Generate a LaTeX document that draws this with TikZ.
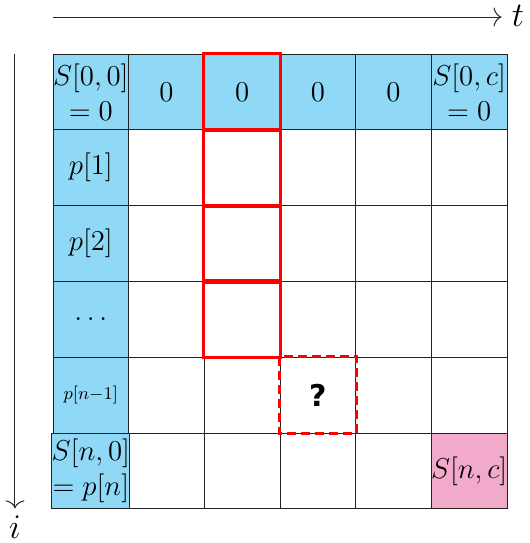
\documentclass[tikz,border=0pt]{standalone}
\usepackage{fontspec}
\newfontfamily\qfont{DejaVu Sans}
\usetikzlibrary{arrows.meta}
\definecolor{cellblue}{HTML}{8FD8F6}
\definecolor{cellpink}{HTML}{F2AACB}
\definecolor{gridline}{HTML}{222222}
\tikzset{
  cellbox/.style={draw=gridline, line width=0.5pt, minimum width=37.83pt, minimum height=37.92pt,
    inner sep=0pt, align=center, font=\fontsize{14}{17.5}\selectfont},
  bluecell/.style={cellbox, fill=cellblue},
  pinkcell/.style={cellbox, fill=cellpink},
  whitecell/.style={cellbox, fill=white},
  redbox/.style={draw=red, line width=1.5pt},
  reddash/.style={draw=red, line width=1.5pt, dash pattern=on 4.5pt off 2.5pt},
  axisarrow/.style={draw=black!85, line width=0.5pt, -{To[length=4pt,width=9.5pt]}},
  axislabel/.style={inner sep=0pt, font=\fontsize{16}{18}\selectfont}
}
\begin{document}
\begin{tikzpicture}[x=0.5pt, y=-0.5pt]
\useasboundingbox (0,0) rectangle (530,543);
% white interior cells
\foreach \i in {1,...,5}{
  \foreach \j in {1,...,5}{
    \ifnum\i\j=55\relax\else
      \node[whitecell] (c-\i-\j) at ({53+75.67*(\j+0.5)},{54+75.83*(\i+0.5)}) {};
    \fi
  }
}
% first row
\node[bluecell] (c-0-0) at ({53+75.67*0.5},{54+75.83*0.5}) {$S[0,0]$\\$=0$};
\node[bluecell] (c-0-1) at ({53+75.67*1.5},{54+75.83*0.5}) {$0$};
\node[bluecell] (c-0-2) at ({53+75.67*2.5},{54+75.83*0.5}) {$0$};
\node[bluecell] (c-0-3) at ({53+75.67*3.5},{54+75.83*0.5}) {$0$};
\node[bluecell] (c-0-4) at ({53+75.67*4.5},{54+75.83*0.5}) {$0$};
\node[bluecell] (c-0-5) at ({53+75.67*5.5},{54+75.83*0.5}) {$S[0,c]$\\$=0$};
% first column
\node[bluecell] (c-1-0) at ({53+75.67*0.5},{54+75.83*1.5}) {$p[1]$};
\node[bluecell] (c-2-0) at ({53+75.67*0.5},{54+75.83*2.5}) {$p[2]$};
\node[bluecell] (c-3-0) at ({53+75.67*0.5},{54+75.83*3.5}) {$\dots$};
\node[bluecell, font=\fontsize{9.5}{11}\selectfont] (c-4-0) at ({53+75.67*0.5},{54+75.83*4.5}) {$p[n{-}1]$};
\node[bluecell] (c-5-0) at ({53+75.67*0.5},{54+75.83*5.5}) {$S[n,0]$\\$=p[n]$};
% result cell
\node[pinkcell] (c-5-5) at ({53+75.67*5.5},{54+75.83*5.5}) {$S[n,c]$};
% question mark
\node[font=\qfont\bfseries\fontsize{15}{17}\selectfont, inner sep=0pt] (q) at (c-4-3) {?};
% red outlines
\foreach \i in {0,...,3}{
  \draw[redbox] (c-\i-2.north west) rectangle (c-\i-2.south east);
}
\draw[reddash] (c-4-3.north west) rectangle (c-4-3.south east);
% axes
\coordinate (tstart) at (53,17);
\node[axislabel] (tlab) at (518,16) {$t$};
\draw[axisarrow, shorten >=5pt] (tstart) -- (tlab.west |- tstart);
\coordinate (istart) at (15,54);
\node[axislabel] (ilab) at (15,527) {$i$};
\draw[axisarrow, shorten >=3.5pt] (istart) -- (istart |- ilab.north);
\end{tikzpicture}
\end{document}
